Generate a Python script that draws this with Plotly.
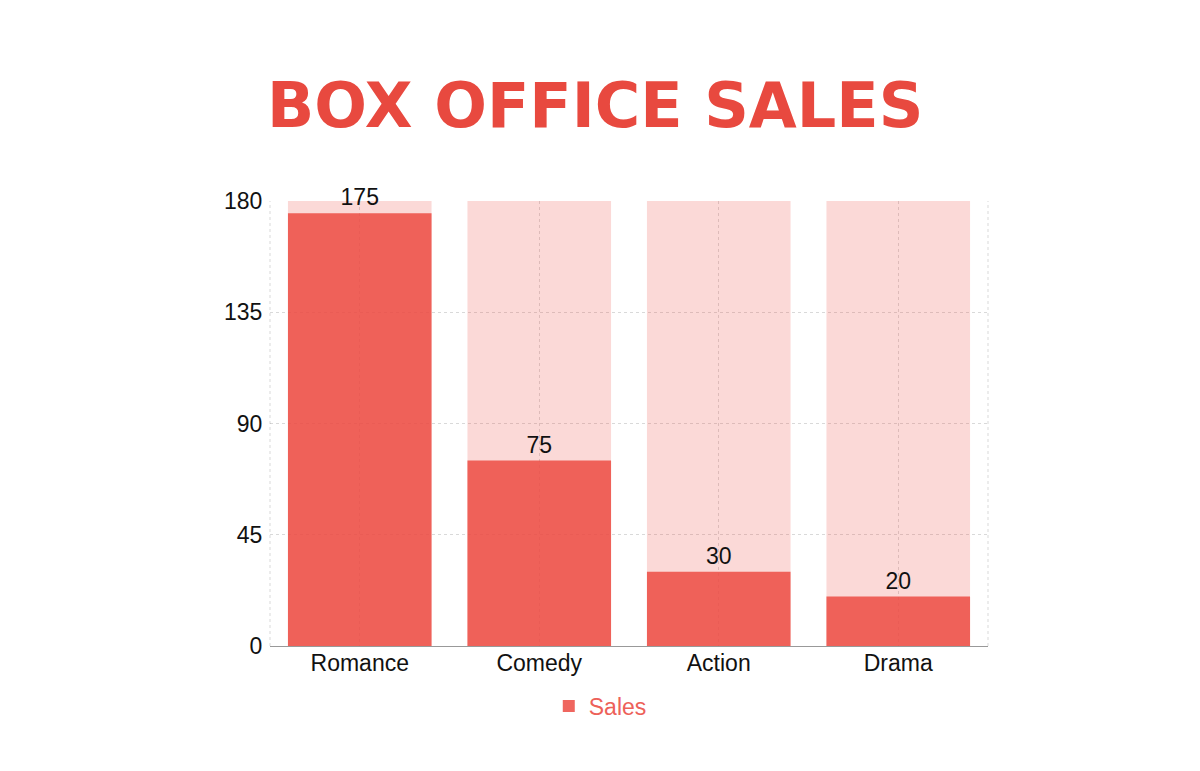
import plotly.graph_objects as go

categories = ["Romance", "Comedy", "Action", "Drama"]
sales = [175, 75, 30, 20]
max_values = [180, 180, 180, 180]
y_ticks = [0, 45, 90, 135, 180]

TITLE_RED = "rgb(232,73,63)"

fig = go.Figure()
fig.add_trace(go.Bar(
    x=categories, y=max_values, showlegend=False, hoverinfo="skip",
    marker=dict(color="rgba(236,75,67,0.21)", line=dict(width=0)),
))
fig.add_trace(go.Bar(
    x=categories, y=sales, name="Sales",
    marker=dict(color="rgba(236,75,67,0.85)", line=dict(width=0)),
    text=[str(v) for v in sales], textposition="outside",
    textfont=dict(family="Liberation Sans, Arial", size=23, color="#111111"),
    cliponaxis=False,
))

grid = "rgba(0,0,0,0.15)"
fig.update_layout(
    width=1200, height=771,
    barmode="overlay", bargap=0.2,
    paper_bgcolor="white", plot_bgcolor="white",
    margin=dict(l=270, r=212, t=201, b=125),
    title=dict(text="BOX OFFICE SALES", x=0.496, xanchor="center", y=0.863, yanchor="middle",
               font=dict(family="DejaVu Sans", size=62, color=TITLE_RED, weight="bold")),
    font=dict(family="Liberation Sans, Arial", size=23, color="#111111"),
    xaxis=dict(showgrid=True, gridcolor=grid, griddash="dot", gridwidth=1,
               showline=True, linecolor="#999999", linewidth=1,
               ticks="", ticklabelstandoff=-4,
               tickfont=dict(size=23, color="#111111")),
    yaxis=dict(range=[0, 180], tickvals=y_ticks, showgrid=True, gridcolor=grid,
               griddash="dot", gridwidth=1, zeroline=False, showline=False,
               ticks="outside", ticklen=2, tickcolor="rgba(0,0,0,0)",
               tickfont=dict(size=23, color="#111111")),
    legend=dict(orientation="h", x=0.46, xanchor="center", y=-0.135, yanchor="middle",
                font=dict(size=23, color="rgb(237,97,89)")),
    shapes=[
        dict(type="line", xref="paper", yref="paper", x0=0, x1=0, y0=0, y1=1,
             line=dict(color=grid, width=1, dash="dot")),
        dict(type="line", xref="paper", yref="paper", x0=1, x1=1, y0=0, y1=1,
             line=dict(color=grid, width=1, dash="dot")),
    ],
)
fig.write_html("out.html")
